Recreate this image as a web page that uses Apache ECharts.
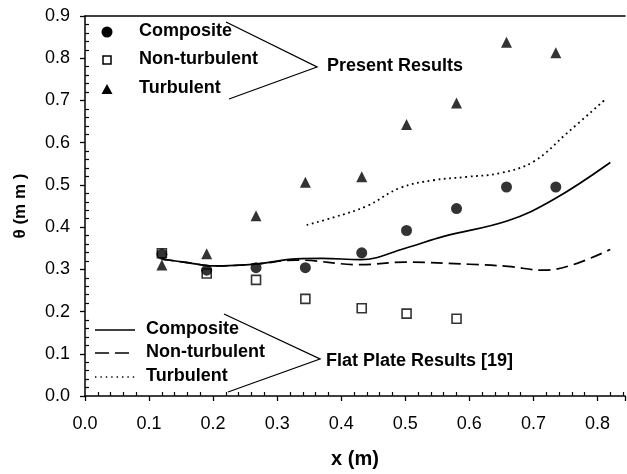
<!DOCTYPE html>
<html>
<head>
<meta charset="utf-8">
<script src="https://cdn.jsdelivr.net/npm/echarts@6/dist/echarts.min.js"></script>
<style>
  html, body { margin: 0; padding: 0; background: #fff; }
  #chart { width: 627px; height: 474px; }
</style>
</head>
<body>
<div id="chart"></div>
<script>
// Measurement stations along the plate (m)
var stations = [0.12, 0.19, 0.267, 0.344, 0.432, 0.502, 0.58, 0.658, 0.735];

// Present results: momentum thickness (mm)
var compositeTheta = [0.336, 0.298, 0.304, 0.304, 0.339, 0.392, 0.444, 0.495, 0.495];
var nonTurbulentTheta = [0.338, 0.290, 0.275, 0.230, 0.208, 0.195, 0.183];
var turbulentTheta = [0.310, 0.337, 0.427, 0.506, 0.519, 0.643, 0.694, 0.838, 0.813];

// Flat plate results [19]: curves as (x, theta) pairs
var flatComposite = [[0.12, 0.324], [0.16, 0.316], [0.2, 0.308], [0.27, 0.313], [0.33, 0.325],
  [0.37, 0.326], [0.43, 0.323], [0.5, 0.35], [0.56, 0.378], [0.66, 0.415], [0.73, 0.464], [0.82, 0.553]];
var flatNonTurbulent = [[0.12, 0.324], [0.16, 0.316], [0.2, 0.308], [0.27, 0.313], [0.33, 0.322],
  [0.43, 0.311], [0.5, 0.317], [0.6, 0.312], [0.66, 0.307], [0.715, 0.298], [0.76, 0.31], [0.82, 0.347]];
var flatTurbulent = [[0.346, 0.405], [0.388, 0.423], [0.44, 0.45], [0.492, 0.493], [0.544, 0.511],
  [0.596, 0.519], [0.648, 0.528], [0.70, 0.555], [0.752, 0.622], [0.814, 0.705]];

var xTicks = [0, 0.1, 0.2, 0.3, 0.4, 0.5, 0.6, 0.7, 0.8];
var yTicks = [0, 0.1, 0.2, 0.3, 0.4, 0.5, 0.6, 0.7, 0.8, 0.9];

function pairs(xs, ys) {
  return ys.map(function (y, i) { return [xs[i], y]; });
}

var FONT = '"Liberation Sans", Arial, Helvetica, sans-serif';
var KEY_FONT = 'bold 18px ' + FONT;
var chart = echarts.init(document.getElementById('chart'));

var axisLine = { show: true, lineStyle: { color: '#000', width: 1.5 } };

var option = {
  animation: false,
  backgroundColor: '#fff',
  grid: { left: 85, right: 2, top: 16, bottom: 73, containLabel: false },
  xAxis: [{
    type: 'value', min: 0, max: 0.843, interval: 0.1,
    name: 'x (m)', nameLocation: 'middle', nameGap: 53,
    nameTextStyle: { fontFamily: FONT, fontSize: 20, fontWeight: 'bold', color: '#000' },
    axisLine: axisLine,
    axisTick: { show: true, length: 5, lineStyle: { color: '#000', width: 1.3 } },
    minorTick: { show: true, splitNumber: 5, length: -4, lineStyle: { color: '#000', width: 1.2 } },
    splitLine: { show: false },
    axisLabel: {
      fontFamily: FONT, fontSize: 18, color: '#000', margin: 19, showMaxLabel: false,
      formatter: function (v) { return xTicks.indexOf(Math.round(v * 10) / 10) >= 0 ? v.toFixed(1) : ''; }
    }
  }, {
    type: 'value', position: 'top', min: 0, max: 0.843,
    axisLine: axisLine, axisTick: { show: false }, axisLabel: { show: false }, splitLine: { show: false }
  }],
  yAxis: {
    type: 'value', min: 0, max: 0.9, interval: 0.1,
    name: 'θ (m m )', nameLocation: 'middle', nameGap: 56,
    nameTextStyle: { fontFamily: FONT, fontSize: 17, fontWeight: 'bold', color: '#000' },
    axisLine: axisLine,
    axisTick: { show: true, length: 5, lineStyle: { color: '#000', width: 1.3 } },
    minorTick: { show: true, splitNumber: 5, length: -4, lineStyle: { color: '#000', width: 1.2 } },
    splitLine: { show: false },
    axisLabel: {
      fontFamily: FONT, fontSize: 18, color: '#000', margin: 15,
      formatter: function (v) { return yTicks.indexOf(Math.round(v * 10) / 10) >= 0 ? v.toFixed(1) : ''; }
    }
  },
  series: [
    {
      name: 'Flat composite', type: 'line', data: flatComposite, smooth: 0.4, showSymbol: false,
      lineStyle: { color: '#000', width: 1.7, type: 'solid' }, z: 2
    },
    {
      name: 'Flat non-turbulent', type: 'line', data: flatNonTurbulent, smooth: 0.4, showSymbol: false,
      lineStyle: { color: '#000', width: 1.7, type: [12, 6] }, z: 2
    },
    {
      name: 'Flat turbulent', type: 'line', data: flatTurbulent, smooth: 0.4, showSymbol: false,
      lineStyle: { color: '#000', width: 1.8, type: [1.8, 3.6] }, z: 2
    },
    {
      name: 'Non-turbulent', type: 'scatter', data: pairs(stations, nonTurbulentTheta),
      symbol: 'rect', symbolSize: 9,
      itemStyle: { color: '#fff', borderColor: '#000', borderWidth: 1.6 }, z: 3
    },
    {
      name: 'Composite', type: 'scatter', data: pairs(stations, compositeTheta),
      symbol: 'circle', symbolSize: 11, itemStyle: { color: '#000' }, z: 4
    },
    {
      name: 'Turbulent', type: 'scatter', data: pairs(stations, turbulentTheta),
      symbol: 'triangle', symbolSize: 11, itemStyle: { color: '#000' }, z: 4
    }
  ],
  graphic: [
    // Present results key
    { type: 'circle', shape: { cx: 107, cy: 32, r: 5.5 }, style: { fill: '#000' } },
    { type: 'rect', shape: { x: 103, y: 56, width: 8, height: 8 }, style: { fill: '#fff', stroke: '#000', lineWidth: 1.5 } },
    { type: 'polygon', shape: { points: [[107, 84], [112.5, 94], [101.5, 94]] }, style: { fill: '#000' } },
    { type: 'text', left: 139, top: 22, style: { text: 'Composite', font: KEY_FONT, fill: '#000' } },
    { type: 'text', left: 139, top: 50, style: { text: 'Non-turbulent', font: KEY_FONT, fill: '#000' } },
    { type: 'text', left: 139, top: 79, style: { text: 'Turbulent', font: KEY_FONT, fill: '#000' } },
    { type: 'polyline', shape: { points: [[226, 22], [317, 67], [229, 99]] }, style: { stroke: '#000', lineWidth: 1.3, fill: null } },
    { type: 'text', left: 327, top: 57, style: { text: 'Present Results', font: KEY_FONT, fill: '#000' } },
    // Flat plate results key
    { type: 'line', shape: { x1: 95, y1: 330, x2: 135, y2: 330 }, style: { stroke: '#000', lineWidth: 1.6 } },
    { type: 'line', shape: { x1: 95, y1: 353, x2: 135, y2: 353 }, style: { stroke: '#000', lineWidth: 1.6, lineDash: [14, 6] } },
    { type: 'line', shape: { x1: 95, y1: 377, x2: 135, y2: 377 }, style: { stroke: '#000', lineWidth: 1.4, lineDash: [1.4, 4] } },
    { type: 'text', left: 146, top: 320, style: { text: 'Composite', font: KEY_FONT, fill: '#000' } },
    { type: 'text', left: 146, top: 343, style: { text: 'Non-turbulent', font: KEY_FONT, fill: '#000' } },
    { type: 'text', left: 146, top: 367, style: { text: 'Turbulent', font: KEY_FONT, fill: '#000' } },
    { type: 'polyline', shape: { points: [[224, 314], [320, 359], [228, 392]] }, style: { stroke: '#000', lineWidth: 1.3, fill: null } },
    { type: 'text', left: 326, top: 352, style: { text: 'Flat Plate Results [19]', font: KEY_FONT, fill: '#000' } }
  ]
};

chart.setOption(option);
</script>
</body>
</html>
